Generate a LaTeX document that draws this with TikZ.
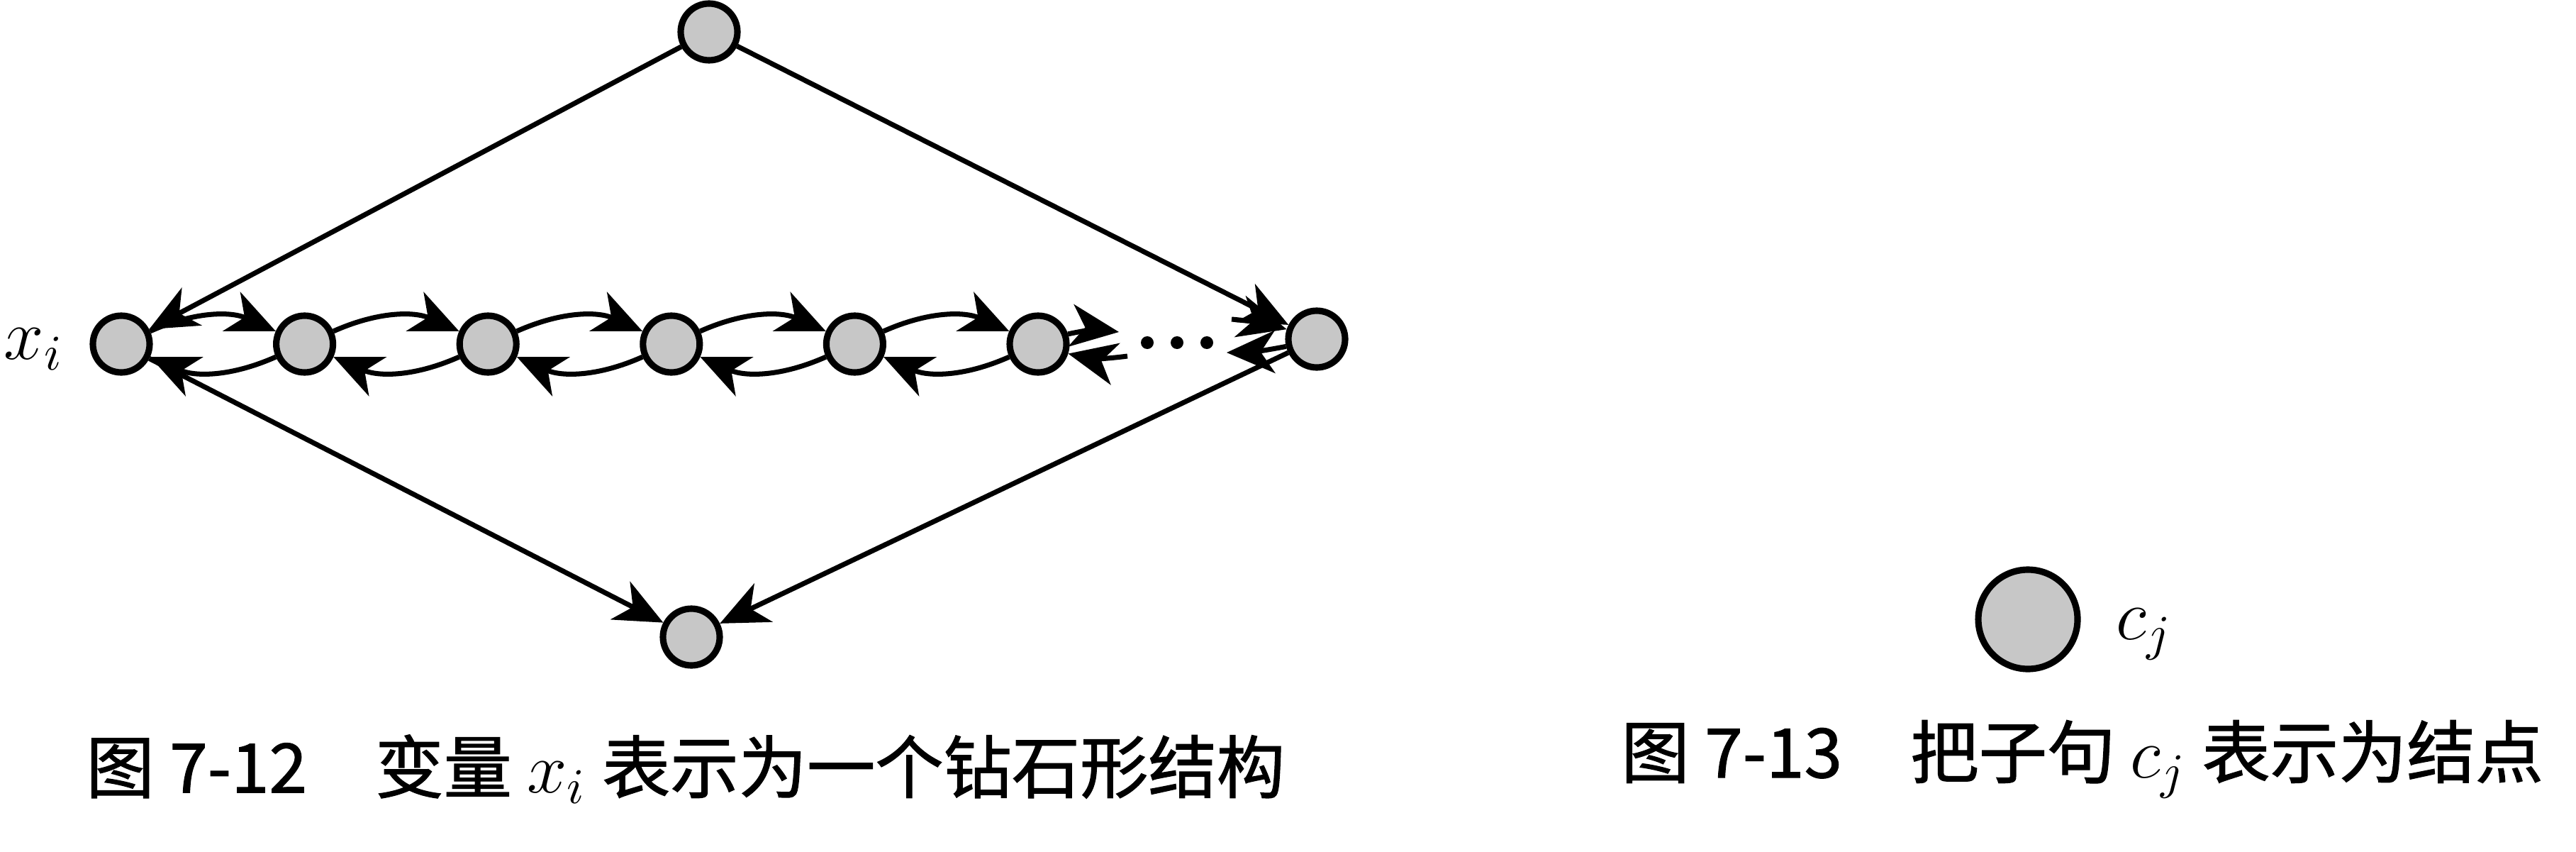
\documentclass[tikz,border=0pt]{standalone}
\usepackage{fontspec}
\newfontfamily\cjk[FakeBold=1.2]{Noto Sans CJK SC}
\usetikzlibrary{arrows.meta}
\tikzset{
  vertex/.style={circle, draw, line width=1.3pt, fill=black!22, inner sep=0pt, minimum size=4mm},
  link/.style={line width=1pt, -{Stealth[length=3.4mm,width=3mm,inset=1mm]}},
  label/.style={font=\fontsize{14}{16}\selectfont, inner sep=0pt},
  caption/.style={anchor=west, font=\cjk\fontsize{13.7}{16}\selectfont, inner sep=0pt}
}

\begin{document}
\begin{tikzpicture}
      \useasboundingbox (0,0) rectangle (18.165,6);
      % diamond for x_i
      \node [vertex] (top) at (5,5.775) {};
      \node [vertex] (x1) at (0.855,3.575) {};
      \foreach \i/\x in {2/2.148, 3/3.441, 4/4.734, 5/6.027, 6/7.32}
        \node [vertex] (x\i) at (\x,3.575) {};
      \node [vertex] (right) at (9.285,3.61) {};
      \node [vertex] (bottom) at (4.875,1.51) {};
      \node [label] (xlabel) at (0.24,3.54) {$x_i$};
      \draw [link] (top) -- (x1);
      \draw [link] (top) -- (right);
      \draw [link] (x1) -- (bottom);
      \draw [link] (right) -- (bottom);
      \foreach \i/\j in {1/2, 2/3, 3/4, 4/5, 5/6} {
        \draw [link] (x\i) to [bend left=24] (x\j);
        \draw [link] (x\j) to [bend left=24] (x\i);
      }
      % the gap
      \coordinate (a1) at (7.89,3.66);
      \coordinate (a2) at (7.95,3.49);
      \coordinate (a3) at (8.685,3.75);
      \coordinate (a4) at (8.65,3.515);
      \draw [link] (x6) to [bend left=10] (a1);
      \draw [link] (a2) to [bend left=10] (x6);
      \draw [link] (a3) to [bend left=5] (right);
      \draw [link] (right) to [bend left=5] (a4);
      \foreach \x in {8.09, 8.3, 8.51}
        \fill (\x,3.585) circle (0.045);
      % clause c_j
      \node [vertex, minimum size=7mm] (clause) at (14.3,1.635) {};
      \node [label] (cj) at (15.12,1.53) {$c_j$};
      % captions
      \node [caption] (cap1) at (0.6,0.58) {图 7-12\quad 变量 $x_i$ 表示为一个钻石形结构};
      \node [caption] (cap2) at (11.425,0.65) {图 7-13\quad 把子句 $c_j$ 表示为结点};
   \end{tikzpicture}
\end{document}
